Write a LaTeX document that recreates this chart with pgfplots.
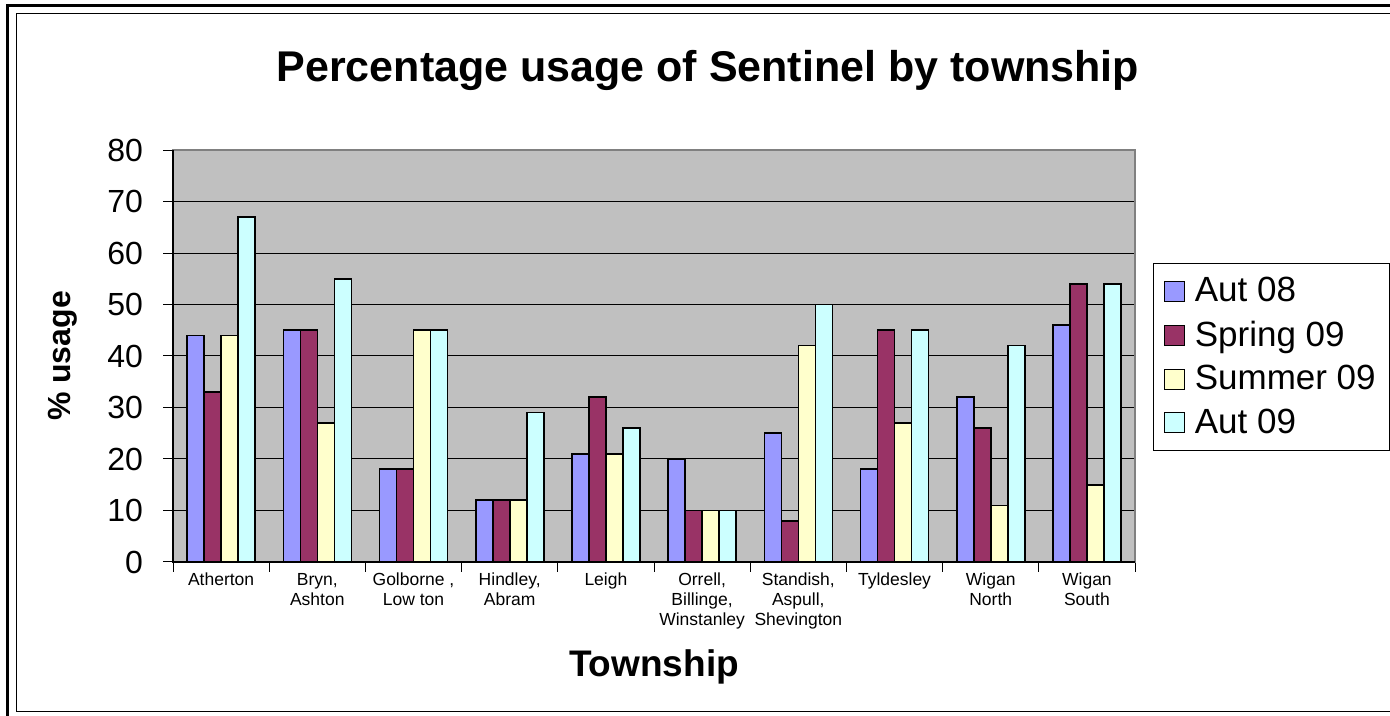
\documentclass[border=0pt]{standalone}
\usepackage{pgfplots}
\pgfplotsset{compat=1.18}
\usepackage{fontspec}
\setmainfont{Liberation Sans}

\definecolor{plotbg}{HTML}{C0C0C0}
\definecolor{autA}{HTML}{9999FF}
\definecolor{spring}{HTML}{993366}
\definecolor{summer}{HTML}{FFFFCC}
\definecolor{autB}{HTML}{CCFFFF}

\begin{document}
\begin{tikzpicture}
\path[use as bounding box] (0,0) rectangle (695pt,358pt);
% double frame
\draw[line width=1.5pt] (3.5pt,-5pt) -- (3.5pt,355pt) -- (720pt,355pt);
\draw[line width=0.5pt] (8pt,2pt) rectangle (720pt,351pt);
\begin{axis}[
	at={(86.5pt,77pt)}, anchor=south west,
	scale only axis,
	width=481pt, height=206pt,
	ybar=0pt, bar width=8.5pt,
	xmin=-0.5, xmax=9.5,
	ymin=0, ymax=80,
	ytick={0,10,...,80},
	xtick={-0.5,0.5,...,9.5},
	xticklabels={},
	extra x ticks={0,1,...,9},
	extra x tick labels={Atherton, {Bryn,\\Ashton}, {Golborne ,\\Low ton}, {Hindley,\\Abram}, Leigh, {Orrell,\\Billinge,\\Winstanley}, {Standish,\\Aspull,\\Shevington}, Tyldesley, {Wigan\\North}, {Wigan\\South}},
	extra x tick style={major tick length=0pt, grid=none},
	xtick pos=lower, ytick pos=left,
	tick align=outside,
	major tick length=5pt,
	ymajorgrids,
	grid style={black, line width=0.5pt},
	axis background/.style={fill=plotbg},
	axis line style={draw=gray, line width=0.6pt},
	tick style={black, line width=0.5pt},
	/pgf/number format/assume math mode=true,
	yticklabel style={font=\fontsize{16pt}{18pt}\selectfont, xshift=-6.5pt},
	xticklabel style={font=\fontsize{8.75pt}{10pt}\selectfont, align=center, yshift=-2pt},
	title={Percentage usage of Sentinel by township},
	title style={font=\bfseries\fontsize{21.5pt}{24pt}\selectfont, at={(axis description cs:0.556,1.163)}, anchor=center},
	xlabel={Township},
	xlabel style={font=\bfseries\fontsize{18.5pt}{21pt}\selectfont, at={(axis description cs:0.5,-0.2549)}, anchor=center},
	ylabel={\% usage},
	ylabel style={font=\bfseries\fontsize{16pt}{18pt}\selectfont, at={(axis description cs:-0.1143,0.5)}, rotate=0, anchor=center},
	legend style={at={(axis description cs:1.0187,0.7257)}, anchor=north west, draw=black, fill=white, line width=0.5pt,
		font=\fontsize{17.5pt}{20pt}\selectfont, row sep=4pt, inner xsep=5pt, inner ysep=5pt},
	legend cell align=left,
	legend image code/.code={\draw[#1, draw=black, line width=0.5pt] (0pt,-5pt) rectangle (10pt,5pt); \path (13pt,0pt);},
	every axis plot/.append style={draw=black, line width=0.8pt},
	after end axis/.code={\draw[black, line width=0.6pt] (rel axis cs:0,1) -- (rel axis cs:0,0) -- (rel axis cs:1,0);},
]
\addplot[fill=autA] coordinates {(0,44) (1,45) (2,18) (3,12) (4,21) (5,20) (6,25) (7,18) (8,32) (9,46)};
\addplot[fill=spring] coordinates {(0,33) (1,45) (2,18) (3,12) (4,32) (5,10) (6,8) (7,45) (8,26) (9,54)};
\addplot[fill=summer] coordinates {(0,44) (1,27) (2,45) (3,12) (4,21) (5,10) (6,42) (7,27) (8,11) (9,15)};
\addplot[fill=autB] coordinates {(0,67) (1,55) (2,45) (3,29) (4,26) (5,10) (6,50) (7,45) (8,42) (9,54)};
\legend{Aut 08, Spring 09, Summer 09, Aut 09}
\end{axis}
\end{tikzpicture}
\end{document}
